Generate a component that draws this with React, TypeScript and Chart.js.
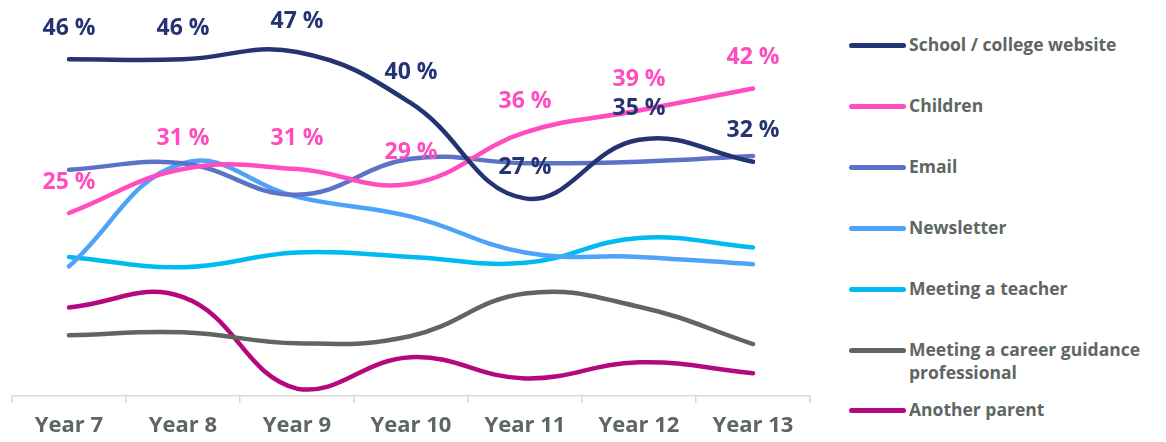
import React, { useEffect, useRef } from "react";
import { Chart, registerables } from "chart.js";

Chart.register(...registerables);

const categories = ["Year 7", "Year 8", "Year 9", "Year 10", "Year 11", "Year 12", "Year 13"];

const schoolWebsite = [46, 46, 47, 40, 27, 35, 32];
const children = [25, 31, 31, 29, 36, 39, 42];
const email = [30.9, 31.8, 27.5, 32.4, 31.8, 32, 32.8];
const newsletter = [17.7, 31.8, 27.2, 24.5, 19.6, 19, 18];
const meetingTeacher = [19, 17.6, 19.6, 19, 18.2, 21.6, 20.3];
const careerProfessional = [8.3, 8.7, 7.2, 8.2, 14, 12.2, 7.1];
const anotherParent = [12.1, 13.5, 1, 5.3, 2.4, 4.6, 3.1];

const seriesNames = [
  "School / college website",
  "Children",
  "Email",
  "Newsletter",
  "Meeting a teacher",
  "Meeting a career guidance professional",
  "Another parent",
];
const seriesData = [schoolWebsite, children, email, newsletter, meetingTeacher, careerProfessional, anotherParent];
const seriesColors = ["#243372", "#FF4DBF", "#5B72C7", "#4DA3F9", "#00BAF2", "#5E6662", "#B5087F"];
const labelled = [true, true, false, false, false, false, false];

const FONT = "'Open Sans', 'DejaVu Sans', sans-serif";
const TEXT_GREY = "#5E6662";

const labelPlugin = {
  id: "pointLabels",
  afterDatasetsDraw(chart: any) {
    const ctx = chart.ctx;
    ctx.save();
    ctx.font = `700 23px ${FONT}`;
    ctx.textAlign = "center";
    ctx.textBaseline = "middle";
    chart.data.datasets.forEach((ds: any, di: number) => {
      if (!ds.showLabels) return;
      const meta = chart.getDatasetMeta(di);
      ctx.fillStyle = ds.borderColor;
      meta.data.forEach((pt: any, i: number) => {
        ctx.fillText(`${ds.data[i]} %`, pt.x, pt.y - 31);
      });
    });
    ctx.restore();
  },
};

export default function App() {
  const ref = useRef<HTMLCanvasElement | null>(null);

  useEffect(() => {
    if (!ref.current) return;
    const chart = new Chart(ref.current, {
      type: "line",
      data: {
        labels: categories,
        datasets: seriesNames.map((name, i) => ({
          label: name,
          data: seriesData[i],
          borderColor: seriesColors[i],
          backgroundColor: seriesColors[i],
          borderWidth: 4.5,
          borderCapStyle: "round",
          pointRadius: 0,
          tension: 0.42,
          clip: false,
          showLabels: labelled[i],
        })) as any,
      },
      options: {
        animation: false,
        responsive: false,
        maintainAspectRatio: false,
        layout: { padding: { top: 30, left: 12, right: 20, bottom: 0 } },
        plugins: { legend: { display: false }, tooltip: { enabled: false } },
        scales: {
          x: {
            offset: true,
            border: { display: true, color: "#D9D9D9", width: 1.5 },
            grid: {
              offset: true,
              drawOnChartArea: false,
              drawTicks: true,
              tickLength: 7,
              color: "#D9D9D9",
              lineWidth: 1.5,
            },
            ticks: {
              color: TEXT_GREY,
              font: { family: FONT, size: 22, weight: "bold" },
              padding: 10,
            },
            afterFit(scale: any) {
              scale.height = 46;
            },
          },
          y: {
            display: false,
            min: 0,
            max: 50,
          },
        },
      } as any,
      plugins: [labelPlugin],
    });
    return () => chart.destroy();
  }, []);

  const legendY = [45, 106, 167, 228, 289, 350, 410];

  return (
    <div style={{ position: "fixed", left: 0, top: 0, width: 1166, height: 442, background: "#fff" }}>
      <canvas ref={ref} width={830} height={442} style={{ position: "absolute", left: 0, top: 0 }} />
      {seriesNames.map((name, i) => (
        <div
          key={name}
          style={{ position: "absolute", left: 849, top: legendY[i] - 12, width: 317, display: "flex", alignItems: "flex-start" }}
        >
          <div
            style={{
              width: 57,
              height: 5,
              borderRadius: 3,
              background: seriesColors[i],
              marginTop: 10,
              flex: "0 0 auto",
            }}
          />
          <div
            style={{
              marginLeft: 3,
              color: TEXT_GREY,
              fontFamily: FONT,
              fontWeight: 700,
              fontSize: 17.5,
              lineHeight: "23px",
            }}
          >
            {name}
          </div>
        </div>
      ))}
    </div>
  );
}
